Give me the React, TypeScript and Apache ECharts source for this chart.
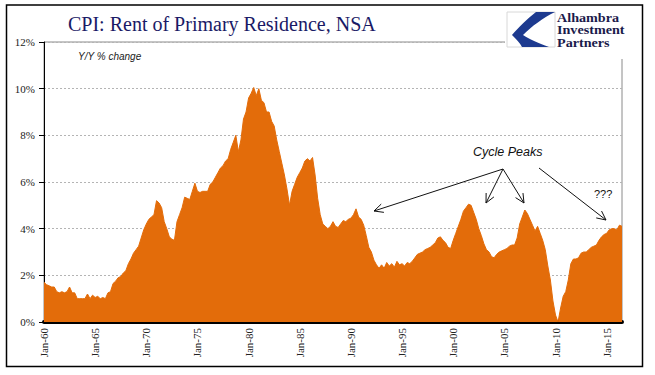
import React, { useEffect, useRef } from "react";
import * as echarts from "echarts";

// Quarterly Y/Y % change, Rent of Primary Residence (NSA), Jan-60 .. Jul-16
const START_YEAR = 1960;
const QUARTER_MONTHS = ["Jan", "Apr", "Jul", "Oct"];
const rentYoY: number[] = [
  1.7, 1.6, 1.55, 1.5, // 1960
  1.5, 1.3, 1.25, 1.3, // 1961
  1.25, 1.3, 1.5, 1.25, // 1962
  1.25, 1.0, 1.0, 1.0, // 1963
  1.0, 1.2, 1.0, 1.15, // 1964
  1.05, 1.1, 1.0, 1.05, // 1965
  1.0, 1.25, 1.3, 1.65, // 1966
  1.75, 1.9, 1.95, 2.1, // 1967
  2.2, 2.5, 2.7, 2.95, // 1968
  3.1, 3.25, 3.6, 3.95, // 1969
  4.2, 4.4, 4.5, 4.6, // 1970
  5.2, 5.1, 4.9, 4.3, // 1971
  4.0, 3.65, 3.55, 3.5, // 1972
  4.3, 4.6, 4.9, 5.35, // 1973
  5.3, 5.25, 5.6, 5.95, // 1974
  5.6, 5.55, 5.6, 5.6, // 1975
  5.6, 5.9, 6.0, 6.2, // 1976
  6.4, 6.6, 6.7, 6.9, // 1977
  7.0, 7.4, 7.7, 8.0, // 1978
  7.3, 7.8, 8.7, 9.0, // 1979
  9.6, 9.8, 10.05, 9.7, // 1980
  10.0, 9.5, 9.4, 9.0, // 1981
  9.0, 8.6, 8.4, 7.8, // 1982
  7.3, 6.8, 6.3, 5.7, // 1983
  5.0, 5.6, 5.9, 6.2, // 1984
  6.4, 6.6, 6.9, 7.0, // 1985
  6.9, 7.05, 6.3, 5.3, // 1986
  4.6, 4.2, 4.1, 4.0, // 1987
  4.1, 4.3, 4.1, 4.05, // 1988
  4.2, 4.35, 4.3, 4.4, // 1989
  4.45, 4.6, 4.85, 4.5, // 1990
  4.4, 4.15, 3.7, 3.2, // 1991
  3.0, 2.65, 2.45, 2.3, // 1992
  2.45, 2.3, 2.55, 2.4, // 1993
  2.5, 2.35, 2.6, 2.45, // 1994
  2.5, 2.4, 2.55, 2.5, // 1995
  2.6, 2.75, 2.9, 2.95, // 1996
  3.0, 3.1, 3.15, 3.2, // 1997
  3.3, 3.4, 3.6, 3.65, // 1998
  3.5, 3.4, 3.2, 3.15, // 1999
  3.5, 3.8, 4.1, 4.4, // 2000
  4.75, 4.9, 5.05, 5.0, // 2001
  4.7, 4.4, 4.0, 3.7, // 2002
  3.35, 3.1, 3.0, 2.8, // 2003
  2.75, 2.9, 3.0, 3.05, // 2004
  3.1, 3.15, 3.25, 3.3, // 2005
  3.3, 3.6, 4.2, 4.5, // 2006
  4.8, 4.65, 4.4, 4.15, // 2007
  3.9, 4.1, 3.8, 3.5, // 2008
  3.1, 2.4, 1.8, 0.9, // 2009
  0.3, 0.0, 0.6, 1.1, // 2010
  1.3, 1.8, 2.5, 2.7, // 2011
  2.7, 2.75, 2.95, 3.0, // 2012
  3.0, 3.1, 3.2, 3.25, // 2013
  3.3, 3.5, 3.65, 3.75, // 2014
  3.8, 3.95, 4.0, 4.0, // 2015
  3.95, 4.15, 4.1, // 2016
];

const categories: string[] = rentYoY.map(
  (_, i) =>
    `${QUARTER_MONTHS[i % 4]}-${String((START_YEAR + Math.floor(i / 4)) % 100).padStart(2, "0")}`
);

const Y_MIN = 0;
const Y_MAX = 12;
const Y_STEP = 2;
const LABEL_EVERY = 20; // every 5 years of quarters

const TITLE = "CPI: Rent of Primary Residence, NSA";
const SUBTITLE = "Y/Y % change";
const PEAKS_LABEL = "Cycle Peaks";
const QUESTION_LABEL = "???";
const LOGO_LINES = ["Alhambra", "Investment", "Partners"];

const LOGO_D =
  "M48 0 L29 0 C20 7 11 16 5 23 C9 27 13 31 15 35 L42 35 C31 31 22 27 16 23 C25 14 36 6 48 0 Z";
echarts.graphic.registerShape("logo", echarts.graphic.extendPath(LOGO_D, {}));

function arrow(x1: number, y1: number, x2: number, y2: number) {
  const a = Math.atan2(y2 - y1, x2 - x1);
  const L = 10;
  const s = 0.45;
  const p1 = [x2 - L * Math.cos(a - s), y2 - L * Math.sin(a - s)];
  const p2 = [x2 - L * Math.cos(a + s), y2 - L * Math.sin(a + s)];
  return [
    {
      type: "line",
      z: 20,
      silent: true,
      shape: { x1, y1, x2, y2 },
      style: { stroke: "#111", lineWidth: 1 },
    },
    {
      type: "polyline",
      z: 20,
      silent: true,
      shape: { points: [p1, [x2, y2], p2] },
      style: { stroke: "#111", fill: "none", lineWidth: 1 },
    },
  ];
}

function txt(
  x: number,
  y: number,
  text: string,
  font: Record<string, any>,
  vAlign: string = "middle"
) {
  return {
    type: "text",
    x,
    y,
    z: 20,
    silent: true,
    style: {
      text,
      ...font,
      align: "left",
      textAlign: "left",
      verticalAlign: vAlign,
      textVerticalAlign: vAlign,
    },
  };
}

export default function App() {
  const ref = useRef<HTMLDivElement>(null);

  useEffect(() => {
    if (!ref.current) return;
    const chart = echarts.init(ref.current, undefined, { renderer: "svg" });

    const serif = '"Liberation Serif", "Times New Roman", serif';
    const sans = '"Liberation Sans", Arial, sans-serif';

    const logoText = {
      ...txt(
        557,
        11.5,
        LOGO_LINES.join("\n"),
        {
          fontSize: 12,
          lineHeight: 12.5,
          fontWeight: "bold",
          fontFamily: serif,
          fill: "#1b1b4b",
        },
        "top"
      ),
      scaleX: 1.18,
    };

    const graphic: any[] = [
      // white logo background
      {
        type: "rect",
        z: 15,
        silent: true,
        shape: { x: 505, y: 6, width: 136, height: 53 },
        style: { fill: "#fff" },
      },
      {
        type: "rect",
        z: 16,
        silent: true,
        shape: { x: 507, y: 12, width: 48, height: 35 },
        style: { fill: "#fff", stroke: "#d8d8d8", lineWidth: 1 },
      },
      {
        type: "logo",
        z: 17,
        silent: true,
        x: 507,
        y: 12,
        scaleX: 1,
        scaleY: 1,
        style: { fill: "#1d3a8f" },
      },
      logoText,
      // title
      txt(68, 24, TITLE, { fontSize: 20, fontFamily: serif, fill: "#1a1a66" }),
      txt(78, 56, SUBTITLE, {
        fontSize: 10,
        fontFamily: sans,
        fontStyle: "italic",
        fill: "#222",
      }),
      txt(473, 152, PEAKS_LABEL, {
        fontSize: 12.5,
        fontFamily: sans,
        fontStyle: "italic",
        fill: "#111",
      }),
      txt(594, 194, QUESTION_LABEL, { fontSize: 11, fontFamily: sans, fill: "#111" }),
      ...arrow(503, 169, 374, 211),
      ...arrow(503, 169, 486, 203),
      ...arrow(503, 169, 524, 203),
      ...arrow(539, 168, 606, 220),
      // outer frame
      {
        type: "rect",
        z: 30,
        silent: true,
        shape: { x: 6.5, y: 5, width: 636, height: 361.5 },
        style: { fill: "none", stroke: "#000", lineWidth: 1.5 },
      },
    ];

    chart.setOption({
      animation: false,
      backgroundColor: "#fff",
      grid: {
        left: 44,
        right: 33,
        top: 42,
        bottom: 53,
        show: true,
        borderColor: "#8a8a8a",
        borderWidth: 1,
        backgroundColor: "transparent",
      },
      xAxis: {
        type: "category",
        data: categories,
        boundaryGap: false,
        axisLine: { show: true, lineStyle: { color: "#000", width: 4 } },
        axisTick: { show: false },
        splitLine: { show: false },
        axisLabel: {
          interval: (i: number) => i % LABEL_EVERY === 0,
          rotate: 90,
          margin: 6,
          fontFamily: serif,
          fontSize: 11,
          color: "#222",
        },
      },
      yAxis: {
        type: "value",
        min: Y_MIN,
        max: Y_MAX,
        interval: Y_STEP,
        axisLine: { show: true, lineStyle: { color: "#000", width: 1 } },
        axisTick: { show: true, length: 5, lineStyle: { color: "#000" } },
        splitLine: {
          show: true,
          lineStyle: { color: "#b4b4b4", type: [2, 2], width: 1 },
        },
        axisLabel: {
          formatter: "{value}%",
          margin: 9,
          fontFamily: serif,
          fontSize: 11,
          color: "#222",
        },
      },
      series: [
        {
          type: "line",
          data: rentYoY,
          symbol: "none",
          lineStyle: { color: "#e36c0a", width: 1 },
          itemStyle: { color: "#e36c0a" },
          areaStyle: { color: "#e36c0a", opacity: 1 },
          z: 2,
        },
      ],
      graphic,
    });

    return () => chart.dispose();
  }, []);

  return (
    <div
      ref={ref}
      style={{ position: "absolute", left: 0, top: 0, width: 655, height: 375 }}
    />
  );
}
